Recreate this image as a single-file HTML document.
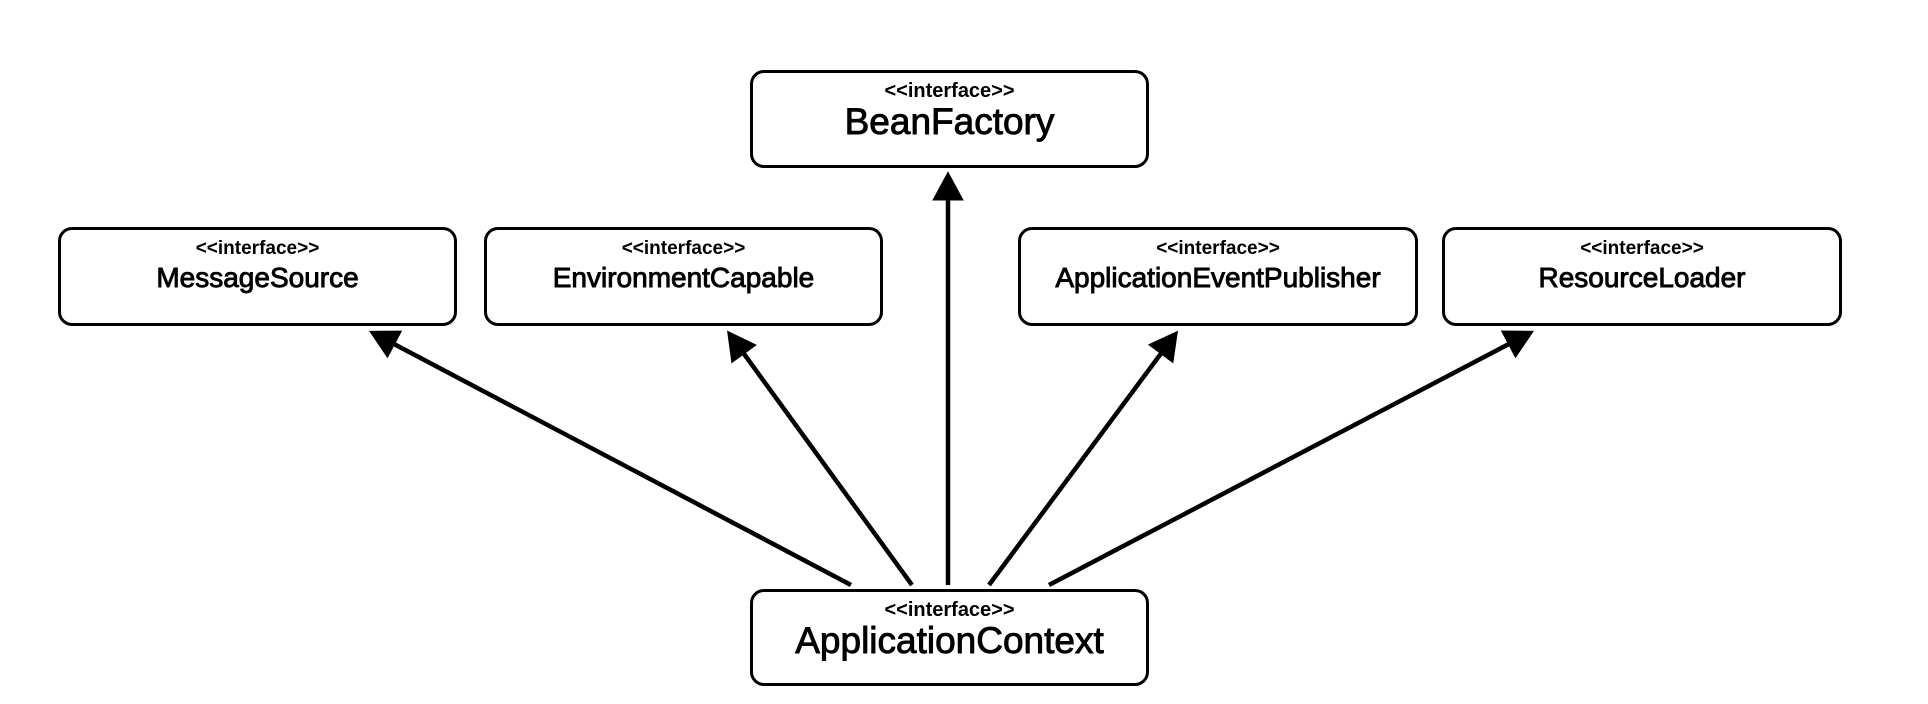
<!DOCTYPE html>
<html><head><meta charset="utf-8"><style>
body{margin:0;background:#fff;width:1928px;height:704px;overflow:hidden;position:relative;font-family:"Liberation Sans",sans-serif}
.b{position:absolute;border:3.5px solid #000;border-radius:14px;box-sizing:border-box;text-align:center;background:#fff}
.s{font-weight:bold;font-size:19px;margin-top:8px;line-height:22px}
.n{font-size:28px;line-height:36px;-webkit-text-stroke:0.9px #000}
.big .s{font-size:20px;margin-top:7px}
.big .n{font-size:37px;line-height:40px}
svg{position:absolute;left:0;top:0}
</style></head><body>
<svg width="1928" height="704">
<defs><marker id="a" markerWidth="8" markerHeight="8" refX="5" refY="4" orient="auto" markerUnits="strokeWidth"><path d="M0,0.5 L6.5,4 L0,7.5 z" fill="#000"/></marker></defs>
<g stroke="#000" stroke-width="4.5" fill="none" marker-end="url(#a)">
<line x1="851" y1="585" x2="375" y2="334"/>
<line x1="912" y1="585" x2="731" y2="336"/>
<line x1="948" y1="585" x2="948" y2="178"/>
<line x1="989" y1="585" x2="1174" y2="336"/>
<line x1="1049" y1="585" x2="1528" y2="334"/>
</g></svg>
<div class="b big" style="left:750px;top:70px;width:399px;height:98px"><div class="s">&lt;&lt;interface&gt;&gt;</div><div class="n">BeanFactory</div></div>
<div class="b" style="left:58px;top:227px;width:399px;height:99px"><div class="s">&lt;&lt;interface&gt;&gt;</div><div class="n">MessageSource</div></div>
<div class="b" style="left:484px;top:227px;width:399px;height:99px"><div class="s">&lt;&lt;interface&gt;&gt;</div><div class="n">EnvironmentCapable</div></div>
<div class="b" style="left:1018px;top:227px;width:400px;height:99px"><div class="s">&lt;&lt;interface&gt;&gt;</div><div class="n">ApplicationEventPublisher</div></div>
<div class="b" style="left:1442px;top:227px;width:400px;height:99px"><div class="s">&lt;&lt;interface&gt;&gt;</div><div class="n">ResourceLoader</div></div>
<div class="b big" style="left:750px;top:589px;width:399px;height:97px"><div class="s">&lt;&lt;interface&gt;&gt;</div><div class="n">ApplicationContext</div></div>
</body></html>
